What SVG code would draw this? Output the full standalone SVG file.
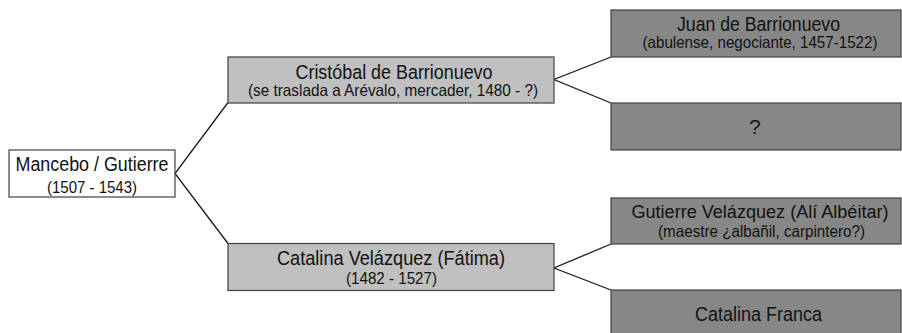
<svg xmlns="http://www.w3.org/2000/svg" width="902" height="333" viewBox="0 0 902 333">
<style>
  .box { stroke: #404040; stroke-width: 1.2; }
  .root { fill: #ffffff; }
  .mid { fill: #c0c0c0; }
  .leaf { fill: #878787; }
  text { font-family: "Liberation Sans", Arial, sans-serif; fill: #111111; text-anchor: middle; }
  .t1 { font-size: 20.5px; }
  .t2 { font-size: 16.5px; }
  .conn { stroke: #1a1a1a; stroke-width: 1.3; fill: none; }
</style>
<rect x="0" y="0" width="902" height="333" fill="#ffffff"/>
<g id="connectors">
  <polyline class="conn" points="228,102.5 175,173.5 228,243.5"/>
  <polyline class="conn" points="611,57 554,79.5 611,103"/>
  <polyline class="conn" points="611,244 554,268 611,290"/>
</g>
<g id="mancebo">
  <rect class="box root" x="9" y="150" width="166" height="47"/>
  <text class="t1" x="92" y="171" textLength="153" lengthAdjust="spacingAndGlyphs">Mancebo / Gutierre</text>
  <text class="t2" x="92" y="192.5" textLength="90" lengthAdjust="spacingAndGlyphs">(1507 - 1543)</text>
</g>
<g id="cristobal">
  <rect class="box mid" x="228" y="57" width="326" height="46"/>
  <text class="t1" x="394" y="78.5" textLength="197" lengthAdjust="spacingAndGlyphs">Cristóbal de Barrionuevo</text>
  <text class="t2" x="393" y="96" textLength="290" lengthAdjust="spacingAndGlyphs">(se traslada a Arévalo, mercader, 1480 - ?)</text>
</g>
<g id="catalina">
  <rect class="box mid" x="228" y="243.5" width="326" height="47"/>
  <text class="t1" x="391" y="264.5" textLength="228" lengthAdjust="spacingAndGlyphs">Catalina Velázquez (Fátima)</text>
  <text class="t2" x="391.5" y="284" textLength="91" lengthAdjust="spacingAndGlyphs">(1482 - 1527)</text>
</g>
<g id="juan">
  <rect class="box leaf" x="611" y="10" width="290" height="47"/>
  <text class="t1" x="758.5" y="30.5" textLength="163" lengthAdjust="spacingAndGlyphs">Juan de Barrionuevo</text>
  <text class="t2" x="760" y="47.5" textLength="235" lengthAdjust="spacingAndGlyphs">(abulense, negociante, 1457-1522)</text>
</g>
<g id="unknown">
  <rect class="box leaf" x="611" y="103" width="290" height="47"/>
  <text class="t1" x="755" y="133.5">?</text>
</g>
<g id="gutierre">
  <rect class="box leaf" x="611" y="198" width="290" height="46"/>
  <text x="760" y="217.5" font-size="18" textLength="257" lengthAdjust="spacingAndGlyphs">Gutierre Velázquez (Alí Albéitar)</text>
  <text class="t2" x="761.5" y="237" textLength="207" lengthAdjust="spacingAndGlyphs">(maestre ¿albañil, carpintero?)</text>
</g>
<g id="franca">
  <rect class="box leaf" x="611" y="290" width="290" height="47"/>
  <text class="t1" x="758.5" y="320.5" textLength="127" lengthAdjust="spacingAndGlyphs">Catalina Franca</text>
</g>
</svg>
